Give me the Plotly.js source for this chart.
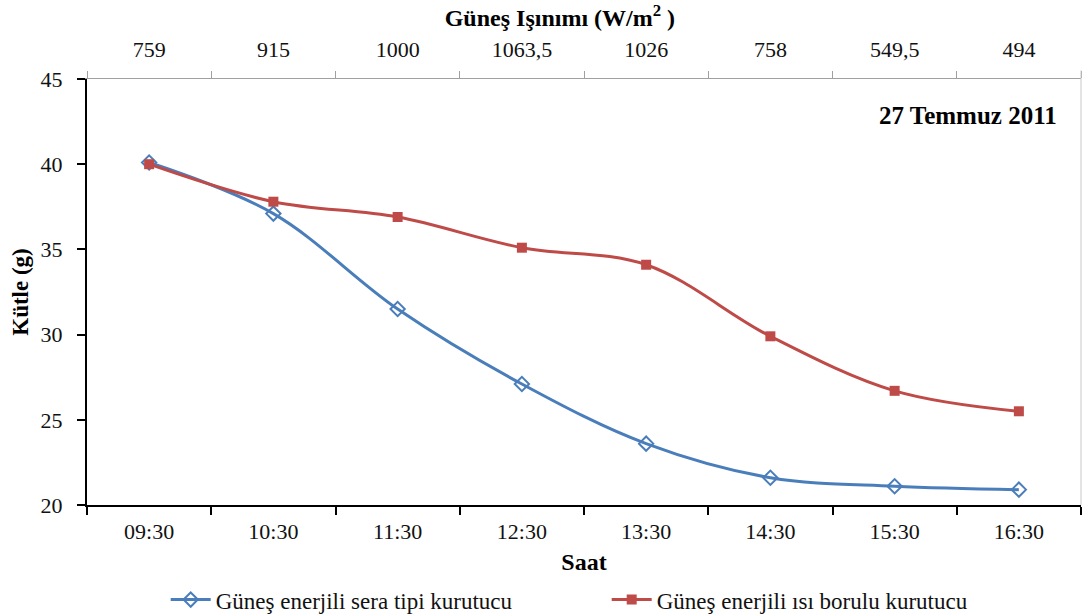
<!DOCTYPE html>
<html>
<head>
<meta charset="utf-8">
<script src="https://cdn.plot.ly/plotly-3.0.1.min.js"></script>
<style>
  html, body { margin: 0; padding: 0; background: #ffffff; }
  #chart { width: 1083px; height: 615px; }
</style>
</head>
<body>
<div id="chart"></div>
<script>
// Hourly sample mass in two solar dryers, with solar radiation on the top axis
const hours = ['09:30', '10:30', '11:30', '12:30', '13:30', '14:30', '15:30', '16:30'];
const radiation = ['759', '915', '1000', '1063,5', '1026', '758', '549,5', '494'];
const greenhouseDryer = [40.1, 37.1, 31.5, 27.1, 23.6, 21.6, 21.1, 20.9];
const heatPipeDryer = [40.0, 37.8, 36.9, 35.1, 34.1, 29.9, 26.7, 25.5];

const serif = 'Liberation Serif, Times New Roman, serif';
const blue = '#4a7ebb';
const red = '#be4b48';

const traces = [
  {
    x: hours, y: greenhouseDryer,
    name: 'Güneş enerjili sera tipi kurutucu',
    type: 'scatter', mode: 'lines+markers',
    line: { color: blue, width: 3, shape: 'spline', smoothing: 1 },
    marker: { symbol: 'diamond-open', size: 11, color: blue, line: { width: 2, color: blue } },
    xaxis: 'x', yaxis: 'y'
  },
  {
    x: hours, y: heatPipeDryer,
    name: 'Güneş enerjili ısı borulu kurutucu',
    type: 'scatter', mode: 'lines+markers',
    line: { color: red, width: 3, shape: 'spline', smoothing: 1 },
    marker: { symbol: 'square', size: 10, color: red },
    xaxis: 'x', yaxis: 'y'
  },
  // carries the radiation categories for the top axis
  {
    x: radiation, y: greenhouseDryer,
    type: 'scatter', mode: 'none',
    showlegend: false, hoverinfo: 'skip',
    xaxis: 'x2', yaxis: 'y'
  }
];

const layout = {
  width: 1083, height: 615,
  margin: { l: 87, r: 2, t: 79, b: 110 },
  paper_bgcolor: '#ffffff', plot_bgcolor: '#ffffff',
  font: { family: serif, size: 22, color: '#111111' },
  title: {
    text: '<b>Güneş Işınımı (W/m<sup>2</sup> )</b>',
    font: { family: serif, size: 24, color: '#000000' },
    xref: 'container', x: 0.517, xanchor: 'center',
    yref: 'container', y: 0.972, yanchor: 'middle'
  },
  showlegend: true,
  legend: {
    orientation: 'h',
    xref: 'container', x: 0.153, xanchor: 'left',
    yref: 'container', y: 0.025, yanchor: 'middle',
    font: { family: serif, size: 23, color: '#111111' },
    itemwidth: 40,
    entrywidth: 386,
    tracegroupgap: 0
  },
  xaxis: {
    type: 'category',
    categoryorder: 'array', categoryarray: hours,
    range: [-0.5, 7.5],
    showgrid: false, zeroline: false,
    showline: true, linecolor: '#000000', linewidth: 2,
    ticks: 'outside', tickson: 'boundaries', ticklen: 8, tickwidth: 2, tickcolor: '#000000',
    ticklabelstandoff: 6,
    tickfont: { family: serif, size: 22, color: '#111111' },
    title: { text: '<b>Saat</b>', font: { family: serif, size: 24, color: '#000000' }, standoff: 10 }
  },
  xaxis2: {
    type: 'category',
    categoryorder: 'array', categoryarray: radiation,
    overlaying: 'x', side: 'top', anchor: 'y',
    range: [-0.5, 7.5],
    showgrid: false, zeroline: false,
    showline: true, linecolor: '#a0a0a0', linewidth: 1.5,
    ticks: 'outside', tickson: 'boundaries', ticklen: 7, tickwidth: 1, tickcolor: '#a0a0a0',
    ticklabelstandoff: 12,
    tickfont: { family: serif, size: 22, color: '#111111' }
  },
  yaxis: {
    range: [20, 45], dtick: 5,
    showgrid: false, zeroline: false,
    showline: true, linecolor: '#000000', linewidth: 2,
    ticks: 'outside', ticklen: 8, tickwidth: 2, tickcolor: '#000000',
    ticklabelstandoff: 10,
    tickfont: { family: serif, size: 22, color: '#111111' },
    title: { text: '<b>Kütle (g)</b>', font: { family: serif, size: 23, color: '#000000' }, standoff: 6 }
  },
  shapes: [
    { type: 'line', xref: 'paper', yref: 'paper', x0: 1, x1: 1, y0: 0, y1: 1.02,
      line: { color: '#c8c8c8', width: 1 } }
  ],
  annotations: [
    { text: '<b>27 Temmuz 2011</b>', xref: 'paper', yref: 'paper',
      x: 0.978, xanchor: 'right', y: 0.915, yanchor: 'middle',
      showarrow: false, font: { family: serif, size: 25, color: '#000000' } }
  ]
};

Plotly.newPlot('chart', traces, layout, { displayModeBar: false, staticPlot: true });
</script>
</body>
</html>
